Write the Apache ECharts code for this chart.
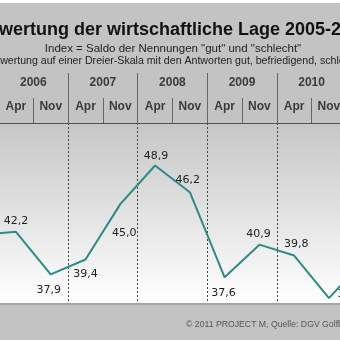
<!DOCTYPE html>
<html><head><meta charset="utf-8">
<script src="https://cdn.jsdelivr.net/npm/echarts@6/dist/echarts.min.js"></script>
<style>
html,body{margin:0;padding:0;width:340px;height:340px;overflow:hidden;background:#fff;}
#c{position:absolute;left:-110px;top:3px;width:566px;height:337px;}
</style></head><body><div id="c"></div>
<script>
// ---- data ----
const years = ['2005','2006','2007','2008','2009','2010','2011'];
const periods = ['Apr','Nov','Apr','Nov','Apr','Nov','Apr','Nov','Apr','Nov','Apr','Nov','Apr','Nov'];
const indexValues = [null, 41.9, 42.2, 37.9, 39.4, 45.0, 48.9, 46.2, 37.6, 40.9, 39.8, 35.5, 39.3, null];
const titleText = 'Bewertung der wirtschaftliche Lage 2005-2011';
const subText1 = 'Index = Saldo der Nennungen "gut" und "schlecht"';
const subText2 = 'Bewertung auf einer Dreier-Skala mit den Antworten gut, befriedigend, schlecht';
const footerText = '\u00A9 2011 PROJECT M, Quelle: DGV Golfbarometer';

// ---- label placement (style only) ----
const labelPlacement = [
  ['top',[0,0]], ['top',[0,0]], ['top',[0,0]], ['bottom',[-2,4.5]], ['bottom',[0,3.5]],
  ['bottom',[4,18.5]], ['top',[1,1.5]], ['top',[-2,-1.5]], ['bottom',[-1,4.5]],
  ['top',[-1,0.5]], ['top',[2,-0.5]], ['right',[3,-4]], ['top',[0,0]], ['top',[0,0]]
];

const chart = echarts.init(document.getElementById('c'), null, {renderer:'canvas'});
const seriesData = indexValues.map((v,i)=>({
  value: v,
  label: {position: labelPlacement[i][0], offset: labelPlacement[i][1]}
}));

const axisColor = '#555';
const option = {
  backgroundColor: '#c3c3c3',
  animation: false,
  title: [
    {text: titleText, left: 'center', top: 13, textStyle:{fontFamily:'Liberation Sans, Arial', fontWeight:'bold', fontSize:18, color:'#111'}},
    {text: subText1, left: 'center', top: 35, textStyle:{fontFamily:'Liberation Sans, Arial', fontWeight:'normal', fontSize:11.5, color:'#222'}},
    {text: subText2, left: 'center', top: 48, textStyle:{fontFamily:'Liberation Sans, Arial', fontWeight:'normal', fontSize:10.6, color:'#222'}},
    {text: footerText, left: 291, top: 312, textStyle:{fontFamily:'Liberation Sans, Arial', fontWeight:'normal', fontSize:8.7, color:'#555'}}
  ],
  grid: {
    left: 39, right: 40.1, top: 120, bottom: 37,
    show: true, borderWidth: 0,
    outerBoundsMode: 'none', containLabel: false,
    backgroundColor: new echarts.graphic.LinearGradient(0,0,0,1,[
      {offset:0, color:'#c6c6c6'}, {offset:0.5, color:'#e2e2e2'}, {offset:1, color:'#ffffff'}
    ])
  },
  xAxis: [
    {
      type:'category', data: periods, position:'top', boundaryGap:true,
      axisLine:{show:true, lineStyle:{color:axisColor, width:1}},
      axisTick:{show:true, interval:0, length:25, inside:false, lineStyle:{color:'#666', width:1}},
      axisLabel:{show:true, interval:0, margin:10, fontFamily:'Liberation Sans, Arial', fontWeight:'bold', fontSize:12, color:'#3a3a3a'},
      splitLine:{show:false}
    },
    {
      type:'category', data: years, position:'top', boundaryGap:true,
      axisLine:{show:false},
      axisTick:{show:true, interval:0, length:50, inside:false, lineStyle:{color:'#666', width:1}},
      axisLabel:{show:true, interval:0, margin:34, fontFamily:'Liberation Sans, Arial', fontWeight:'bold', fontSize:12, color:'#3a3a3a'},
      splitLine:{show:true, interval:0, lineStyle:{color:'#444', width:1, type:[2,2]}}
    },
    {
      type:'category', data: periods, position:'bottom', boundaryGap:true, offset:1,
      axisLine:{show:true, lineStyle:{color:'#a6a6a6', width:2}},
      axisTick:{show:false}, axisLabel:{show:false}, splitLine:{show:false}
    }
  ],
  yAxis: {
    type:'value', min:35, max:53.2, show:false, splitLine:{show:false}
  },
  series: [{
    type:'line', xAxisIndex:0, data: seriesData,
    symbol:'circle', symbolSize:1, showSymbol:true, connectNulls:false,
    itemStyle:{color:'rgba(0,0,0,0)'},
    lineStyle:{color:'#2a8c86', width:2},
    label:{show:true, fontFamily:'DejaVu Sans', fontSize:11, color:'#222',
      formatter: p => p.value == null ? '' : p.value.toFixed(1).replace('.', ',')}
  }]
};
chart.setOption(option);
</script></body></html>
